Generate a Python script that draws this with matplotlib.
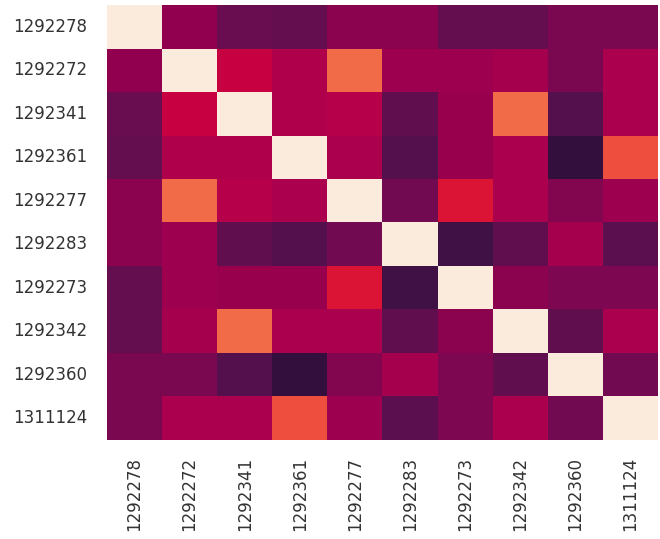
import numpy as np
import pandas as pd
import matplotlib
matplotlib.use("Agg")
import matplotlib.pyplot as plt
from matplotlib.colors import ListedColormap, rgb_to_hsv, hsv_to_rgb
import seaborn as sns

ids = ["1292278", "1292272", "1292341", "1292361", "1292277",
       "1292283", "1292273", "1292342", "1292360", "1311124"]

# pairwise similarity (symmetric, 1 on the diagonal)
corr = [
    [1.00, 0.36, 0.27, 0.26, 0.35, 0.35, 0.26, 0.26, 0.31, 0.31],
    [0.36, 1.00, 0.49, 0.43, 0.69, 0.39, 0.39, 0.41, 0.31, 0.42],
    [0.27, 0.49, 1.00, 0.43, 0.45, 0.25, 0.38, 0.69, 0.22, 0.42],
    [0.26, 0.43, 0.43, 1.00, 0.42, 0.22, 0.38, 0.42, 0.14, 0.63],
    [0.35, 0.69, 0.45, 0.42, 1.00, 0.29, 0.55, 0.42, 0.33, 0.39],
    [0.35, 0.39, 0.25, 0.22, 0.29, 1.00, 0.17, 0.25, 0.41, 0.24],
    [0.26, 0.39, 0.38, 0.38, 0.55, 0.17, 1.00, 0.35, 0.32, 0.32],
    [0.26, 0.41, 0.69, 0.42, 0.42, 0.25, 0.35, 1.00, 0.25, 0.42],
    [0.31, 0.31, 0.22, 0.14, 0.33, 0.41, 0.32, 0.25, 1.00, 0.29],
    [0.31, 0.42, 0.42, 0.63, 0.39, 0.24, 0.32, 0.42, 0.29, 1.00],
]

df = pd.DataFrame(corr, index=ids, columns=ids)

# rocket, with the purples/magentas a bit more saturated like the original
rocket = np.array(sns.color_palette("rocket", 256))
hsv = rgb_to_hsv(rocket)
pos = np.linspace(0, 1, 256)
boost = 1 + 0.25 * np.clip((0.62 - pos) / 0.15, 0, 1)
hsv[:, 1] = np.clip(hsv[:, 1] * boost, 0, 1)
cmap = ListedColormap(hsv_to_rgb(hsv))

fig = plt.figure(figsize=(6.6, 5.39), dpi=100)
ax = fig.add_axes([0.162, 0.1837, 0.835, 0.807])
sns.heatmap(df, ax=ax, cmap=cmap, vmin=0, vmax=1, cbar=False)

ax.tick_params(axis="both", length=0, labelsize=12, colors="#333333")
ax.tick_params(axis="y", pad=14, labelrotation=0)
ax.tick_params(axis="x", pad=12, labelrotation=90)

fig.savefig("out.png", dpi=100)
